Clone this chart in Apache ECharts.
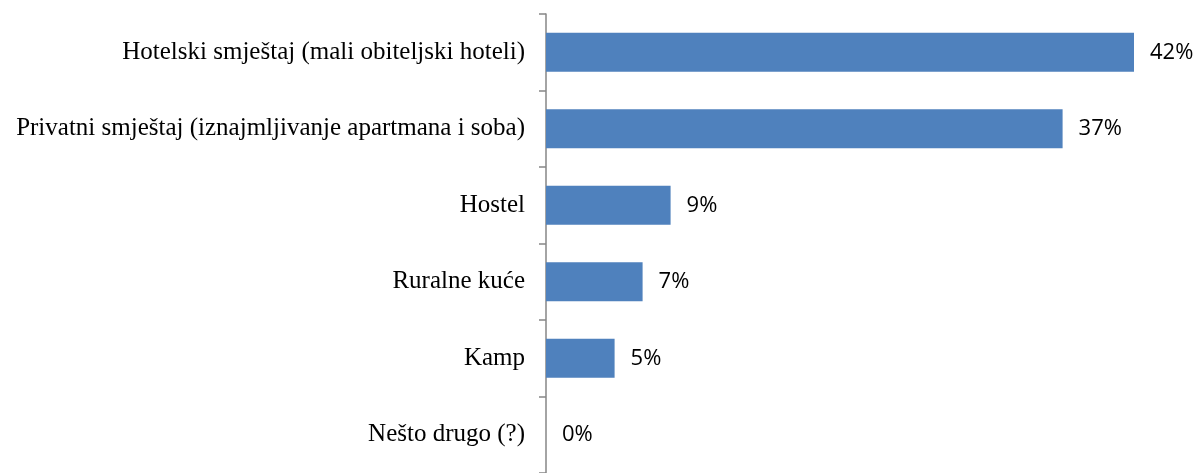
<!DOCTYPE html>
<html>
<head>
<meta charset="utf-8">
<script src="https://cdn.jsdelivr.net/npm/echarts@6/dist/echarts.min.js"></script>
<style>
  html, body { margin: 0; padding: 0; background: #ffffff; }
  #chart { width: 1200px; height: 473px; }
</style>
</head>
<body>
<div id="chart"></div>
<script>
const categories = [
  'Hotelski smještaj (mali obiteljski hoteli)',
  'Privatni smještaj (iznajmljivanje apartmana i soba)',
  'Hostel',
  'Ruralne kuće',
  'Kamp',
  'Nešto drugo (?)'
];
const shares = [42.0, 36.9, 8.9, 6.9, 4.9, 0];

function loadBarChart() {
  let chartDom = document.querySelector('#chart');
  let myChart = echarts.init(chartDom);

  let option = {
    animation: false,
    grid: {
      left: 546,
      right: 24,
      top: 14,
      bottom: -5
    },
    xAxis: {
      type: 'value',
      min: 0,
      max: 45,
      show: false
    },
    yAxis: {
      type: 'category',
      inverse: true,
      data: categories,
      axisLine: { show: true, lineStyle: { color: '#868686', width: 1.5 } },
      axisTick: { show: true, length: 7, lineStyle: { color: '#868686', width: 1.5 } },
      axisLabel: {
        margin: 21,
        color: '#000000',
        fontFamily: 'Liberation Serif',
        fontSize: 25
      }
    },
    series: [
      {
        type: 'bar',
        data: shares,
        barWidth: 39,
        itemStyle: { color: '#4F81BD' },
        label: {
          show: true,
          position: 'right',
          distance: 16,
          color: '#000000',
          fontFamily: 'Open Sans',
          fontSize: 22,
          formatter: (p) => Math.round(p.value) + '%'
        }
      }
    ]
  };

  myChart.setOption(option);
}

document.addEventListener('DOMContentLoaded', () => {
  loadBarChart();
});
</script>
</body>
</html>
